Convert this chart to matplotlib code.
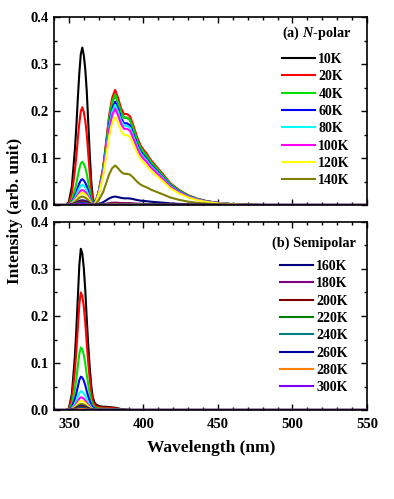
import numpy as np
import matplotlib
matplotlib.use('Agg')
from matplotlib import pyplot as plt
from matplotlib.ticker import MultipleLocator

plt.rcParams['font.family'] = ['Liberation Serif', 'DejaVu Serif']
plt.rcParams['font.weight'] = 'bold'
plt.rcParams['mathtext.fontset'] = 'custom'
plt.rcParams['mathtext.it'] = 'Liberation Serif:italic:bold'
plt.rcParams['mathtext.rm'] = 'Liberation Serif:bold'

# temperatures and colours (Origin-like palette)
temps = ['10K', '20K', '40K', '60K', '80K', '100K', '120K', '140K',
         '160K', '180K', '200K', '220K', '240K', '260K', '280K', '300K']
colors = ['#000000', '#ff0000', '#00e000', '#0000ff', '#00ffff', '#ff00ff', '#ffff00', '#808000',
          '#000080', '#800080', '#800000', '#008000', '#008080', '#0000a0', '#ff8000', '#8000ff']

# wavelength samples (nm)
wavelength = [340, 348, 350, 352, 354, 355, 356, 357, 358, 359, 360, 361, 362, 363, 364, 365,
              366, 367, 368, 370, 373, 375, 377, 379, 381, 383, 385, 387, 389, 391, 393, 396,
              398, 400, 402, 405, 409, 413, 418, 424, 430, 436, 442, 450, 460, 470, 480, 550]

# normalised line shapes
uv_shape_a = [0, 0, 0.02, 0.12, 0.35, 0.50, 0.68, 0.84, 0.96, 1.0, 0.95, 0.86, 0.72, 0.52, 0.32, 0.15,
              0.05, 0.01, 0, 0, 0, 0, 0, 0, 0, 0, 0, 0, 0, 0, 0, 0,
              0, 0, 0, 0, 0, 0, 0, 0, 0, 0, 0, 0, 0, 0, 0, 0]
band_shape_a = [0, 0, 0, 0, 0, 0, 0, 0, 0, 0, 0, 0, 0, 0, 0, 0,
                0, 0, 0.03, 0.12, 0.33, 0.55, 0.78, 0.93, 1.0, 0.93, 0.84, 0.79, 0.79, 0.77, 0.70, 0.58,
                0.52, 0.48, 0.45, 0.39, 0.33, 0.27, 0.19, 0.13, 0.085, 0.055, 0.035, 0.018, 0.007, 0.002, 0, 0]
uv_shape_b = [0, 0, 0.01, 0.10, 0.33, 0.50, 0.70, 0.90, 1.0, 0.97, 0.88, 0.74, 0.56, 0.40, 0.26, 0.15,
              0.08, 0.05, 0.035, 0.025, 0.02, 0.02, 0.018, 0.016, 0.014, 0.01, 0.006, 0.003, 0.001, 0, 0, 0,
              0, 0, 0, 0, 0, 0, 0, 0, 0, 0, 0, 0, 0, 0, 0, 0]

# peak heights per temperature
npolar_uv = [0.335, 0.208, 0.092, 0.055, 0.043, 0.032, 0.026, 0.018,
             0.010, 0.008, 0.006, 0.005, 0.004, 0.003, 0.002, 0.002]
npolar_band = [0.235, 0.245, 0.235, 0.220, 0.213, 0.205, 0.188, 0.084,
               0.018, 0.005, 0.003, 0.002, 0.002, 0.001, 0.001, 0.0]
semipolar_uv = [0.343, 0.250, 0.133, 0.071, 0.040, 0.027, 0.020, 0.013,
                0.009, 0.007, 0.006, 0.005, 0.004, 0.003, 0.002, 0.0]

wl = np.array(wavelength)

fig = plt.figure(figsize=(3.94, 4.99), dpi=100)
ax1 = fig.add_axes([54/394, 1-205/499, 313/394, 188/499])
ax2 = fig.add_axes([54/394, 1-410/499, 313/394, 188/499])

lines = []
for i, t in enumerate(temps):
    ya = npolar_uv[i]*np.array(uv_shape_a) + npolar_band[i]*np.array(band_shape_a)
    yb = semipolar_uv[i]*np.array(uv_shape_b)
    l, = ax1.plot(wl, ya, color=colors[i], lw=1.5, label=t)
    ax2.plot(wl, yb, color=colors[i], lw=1.5, label=t)
    lines.append(l)

for ax in (ax1, ax2):
    ax.set_xlim(340, 550)
    ax.set_ylim(0, 0.4)
    ax.xaxis.set_major_locator(MultipleLocator(50))
    ax.xaxis.set_minor_locator(MultipleLocator(10))
    ax.yaxis.set_major_locator(MultipleLocator(0.1))
    ax.yaxis.set_minor_locator(MultipleLocator(0.05))
    ax.tick_params(which='both', direction='in', top=True, right=True, width=1.0, labelsize=10.5)
    ax.tick_params(which='major', length=4)
    ax.tick_params(which='minor', length=2.5)
    ax.tick_params(axis='x', pad=6)
    ax.tick_params(axis='y', pad=4)
    for s in ax.spines.values():
        s.set_linewidth(1.2)
    ax.yaxis.set_major_formatter(plt.FormatStrFormatter('%.1f'))

ax1.tick_params(axis='x', labelbottom=False)

leg_kw = dict(loc='upper left', frameon=False, fontsize=10, handlelength=2.37,
              handletextpad=0.25, labelspacing=0.31, borderpad=0, borderaxespad=0)
leg1 = ax1.legend(handles=lines[:8], bbox_to_anchor=(282/394, 1-53/499),
                  bbox_transform=fig.transFigure, **leg_kw)
leg2 = ax2.legend(handles=lines[8:], bbox_to_anchor=(280/394, 1-260/499),
                  bbox_transform=fig.transFigure, **leg_kw)

fig.text(282/394, 1-33/499, r'(a) $\mathit{N}$-polar', fontsize=10.3, weight='bold', va='center')
fig.text(272/394, 1-243/499, '(b) Semipolar', fontsize=10.3, weight='bold', va='center')

fig.text(15/394, 1-211/499, 'Intensity (arb. unit)', rotation=90, fontsize=12.5,
         weight='bold', ha='center', va='center')
fig.text(211/394, 1-448/499, 'Wavelength (nm)', fontsize=12.5, weight='bold',
         ha='center', va='center')

fig.savefig('out.png', dpi=100)
